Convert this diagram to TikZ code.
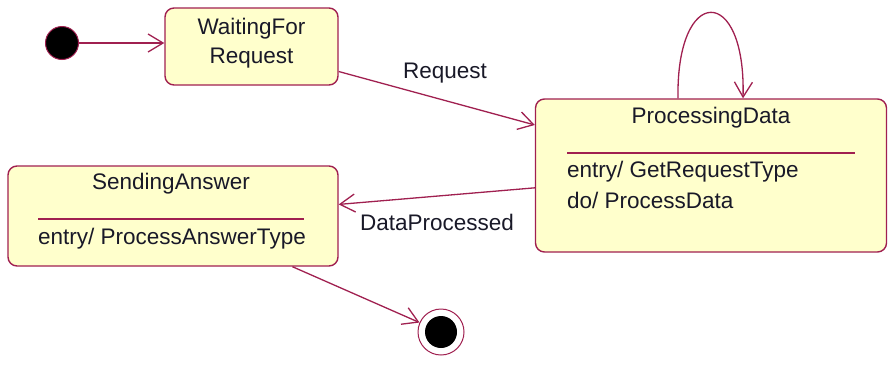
\documentclass[tikz,border=0pt]{standalone}
\usepackage{fontspec}
\setmainfont{Liberation Sans}
\usetikzlibrary{arrows.meta,calc}
\definecolor{umlline}{RGB}{160,32,80}
\definecolor{umlfill}{RGB}{255,255,204}
\definecolor{umltext}{RGB}{25,25,40}
\tikzset{
  statebox/.style={draw=umlline, fill=umlfill, line width=1.4pt, rounded corners=9pt,
    rectangle, inner sep=0pt},
  lbl/.style={inner sep=0pt, text=umltext, font=\fontsize{22.5}{29}\selectfont},
  trans/.style={draw=umlline, line width=1.3pt, -{Straight Barb[length=15pt,width=18pt,line width=1.3pt]}},
  sepline/.style={draw=umlline, line width=1.3pt},
}
\begin{document}
\begin{tikzpicture}[x=1pt,y=-1pt]
\useasboundingbox (0,0) rectangle (890,365);

% initial and final pseudo-states
\node[circle, fill=black, draw=umlline, line width=1pt, minimum size=33pt, inner sep=0pt] (init) at (62,43) {};
\node[circle, fill=white, draw=umlline, line width=1pt, minimum size=46pt, inner sep=0pt] (final) at (441,332) {};
\node[circle, fill=black, minimum size=32pt, inner sep=0pt] (finalcore) at (final.center) {};

% WaitingForRequest
\node[statebox, minimum width=173pt, minimum height=77pt] (wait) at (251.5,46.5) {};
\node[lbl, align=center] (waittxt) at (251.5,43) {WaitingFor\\Request};

% ProcessingData
\node[statebox, minimum width=351pt, minimum height=153pt] (proc) at (711,175.5) {};
\node[lbl] (proctitle) at (711,118) {ProcessingData};
\coordinate (procsepL) at (567,153);
\coordinate (procsepR) at (855,153);
\draw[sepline] (procsepL) -- (procsepR);
\node[lbl, anchor=west] (procentry) at (567,172) {entry/ GetRequestType};
\node[lbl, anchor=west] (procdo) at (567,200) {do/ ProcessData};

% SendingAnswer
\node[statebox, minimum width=330pt, minimum height=100pt] (send) at (173,216) {};
\node[lbl] (sendtitle) at (171,184) {SendingAnswer};
\coordinate (sendsepL) at (38,219);
\coordinate (sendsepR) at (304,219);
\draw[sepline] (sendsepL) -- (sendsepR);
\node[lbl, anchor=west] (sendentry) at (38,239) {entry/ ProcessAnswerType};

% transitions
\draw[trans] (init) -- (wait.west |- init);
\draw[trans] (wait.-16) -- (proc.164);
\node[lbl] (reqlbl) at (445,73) {Request};
\draw[trans] ([xshift=-33pt]proc.north) .. controls (676,-16) and (746,-16) .. ([xshift=32pt]proc.north);
\draw[trans] (proc.184.4) -- (send.4.5);
\node[lbl] (dplbl) at (437,222) {DataProcessed};
\draw[trans] (send.-23.1) -- (final);
\end{tikzpicture}
\end{document}
